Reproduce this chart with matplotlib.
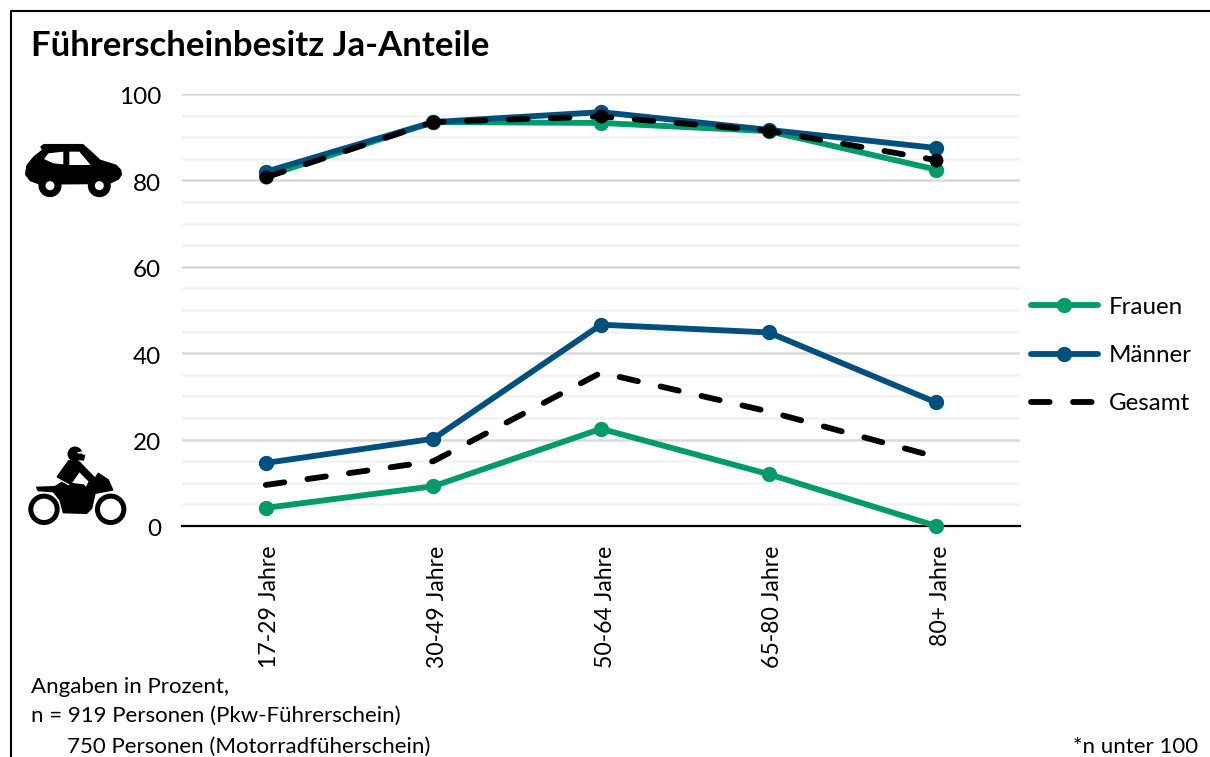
"""Führerscheinbesitz line chart with car and motorcycle icons."""

import matplotlib

matplotlib.use("Agg")
import matplotlib.pyplot as plt
from matplotlib.patches import Circle, Polygon
from matplotlib.transforms import ScaledTranslation

W, H = 1210, 757

categories = ["17-29 Jahre", "30-49 Jahre", "50-64 Jahre", "65-80 Jahre", "80+ Jahre"]
car_frauen = [81.0, 93.5, 93.3, 91.4, 82.5]
car_maenner = [82.0, 93.5, 95.8, 91.7, 87.5]
car_gesamt = [80.7, 93.5, 94.8, 91.5, 84.7]
moto_frauen = [4.2, 9.2, 22.5, 12.0, 0.0]
moto_maenner = [14.6, 20.2, 46.6, 44.8, 28.6]
moto_gesamt = [9.5, 15.0, 35.5, 26.5, 16.0]
y_ticks = [0, 20, 40, 60, 80, 100]
minor_ticks = [5, 10, 15, 25, 30, 35, 45, 50, 55, 65, 70, 75, 85, 90, 95]

GREEN = "#009b6b"
BLUE = "#00507d"

plt.rcParams["font.family"] = ["Lato", "DejaVu Sans"]

fig = plt.figure(figsize=(W / 100, H / 100), dpi=100)
ax = fig.add_axes([182 / W, 1 - 526 / H, (1020 - 182) / W, (526 - 94) / H])
ax.set_xlim(-0.5, 4.5)
ax.set_ylim(0, 100)

x = range(len(categories))
line_kw = dict(lw=4.2, marker="o", ms=10, solid_capstyle="round", clip_on=False, zorder=3)
ax.plot(x, car_frauen, color=GREEN, **line_kw)
ax.plot(x, car_maenner, color=BLUE, **line_kw)
ax.plot(x, moto_frauen, color=GREEN, label="Frauen", **line_kw)
ax.plot(x, moto_maenner, color=BLUE, label="Männer", **line_kw)
dash_kw = dict(color="black", lw=4.2, ls=(0, (3.2, 4.0)), dash_capstyle="round", zorder=4)
ax.plot(x, car_gesamt, marker="o", ms=9, clip_on=False, **dash_kw)
ax.plot(x, moto_gesamt, label="Gesamt", **dash_kw)

ax.set_yticks(y_ticks)
ax.set_yticks(minor_ticks, minor=True)
ax.grid(axis="y", which="major", color="#d9d9d9", lw=1.8)
ax.grid(axis="y", which="minor", color="#f2f2f2", lw=1.8)
ax.set_axisbelow(True)
ax.set_xticks(list(x))
ax.set_xticklabels(categories, rotation=90, fontsize=16.6)
ax.tick_params(axis="x", length=0, pad=14)
ax.tick_params(axis="y", which="both", length=0, pad=15, labelsize=17.5)
for side in ["top", "right", "left"]:
    ax.spines[side].set_visible(False)
ax.spines["bottom"].set_color("black")
ax.spines["bottom"].set_linewidth(1.6)

# labels sit a few pixels off the default spot in the original
for label in ax.get_xticklabels():
    label.set_transform(label.get_transform() + ScaledTranslation(4 / 100, 0, fig.dpi_scale_trans))
for label in ax.get_yticklabels():
    label.set_transform(label.get_transform() + ScaledTranslation(0, -2 / 100, fig.dpi_scale_trans))

fig.legend(
    loc="upper left",
    bbox_to_anchor=(1021.5 / W, 1 - 287 / H),
    frameon=False,
    fontsize=17.4,
    handlelength=2.75,
    handletextpad=0.45,
    labelspacing=1.13,
    borderaxespad=0,
)

# everything below is placed in reference pixels
overlay = fig.add_axes([0, 0, 1, 1], zorder=5)
overlay.set_xlim(0, W)
overlay.set_ylim(H, 0)
overlay.axis("off")
overlay.patch.set_alpha(0)

overlay.plot([10.5, 10.5, W], [H, 10.5, 10.5], color="black", lw=1.5, solid_capstyle="butt")

overlay.text(31, 46, "Führerscheinbesitz Ja-Anteile", fontsize=25, fontweight="bold", va="center", ha="left")
overlay.text(31, 687, "Angaben in Prozent,", fontsize=16, va="center", ha="left")
overlay.text(31, 716, "n = 919 Personen (Pkw-Führerschein)", fontsize=16, va="center", ha="left")
overlay.text(67, 747, "750 Personen (Motorradfüherschein)", fontsize=16, va="center", ha="left")
overlay.text(1198, 747, "*n unter 100", fontsize=16, va="center", ha="right")


def icon_points(points, left, top):
    # outlines were traced at 3x zoom
    return [(left + px / 3, top + py / 3) for px, py in points]


def add_shape(points, left, top, color="black", edge=0.0):
    overlay.add_patch(
        Polygon(icon_points(points, left, top), closed=True, fc=color, ec=color, lw=edge, joinstyle="round")
    )


# car icon
CAR_LEFT, CAR_TOP = 20, 135
add_shape(
    [
        (64, 36), (72, 30), (188, 30), (213, 52), (240, 77), (288, 92), (301, 106), (303, 118),
        (295, 131), (268, 144), (60, 146), (32, 136), (18, 118), (22, 92), (42, 67), (70, 45),
    ],
    CAR_LEFT,
    CAR_TOP,
    edge=1.5,
)
add_shape([(72, 72), (85, 55), (130, 50), (130, 88), (100, 85)], CAR_LEFT, CAR_TOP, "white")
add_shape([(148, 50), (178, 50), (212, 90), (148, 90)], CAR_LEFT, CAR_TOP, "white")
for wheel_x in (90, 238):
    (cx, cy), = icon_points([(wheel_x, 152)], CAR_LEFT, CAR_TOP)
    overlay.add_patch(Circle((cx, cy), 11.5, fc="black", ec="none"))
    overlay.add_patch(Circle((cx, cy), 4.5, fc="white", ec="none"))

# motorcycle icon
BIKE_LEFT, BIKE_TOP = 20, 440
for wheel_x in (72, 272):
    (cx, cy), = icon_points([(wheel_x, 208)], BIKE_LEFT, BIKE_TOP)
    overlay.add_patch(Circle((cx, cy), 13.2, fc="none", ec="black", lw=3.6))
add_shape(
    [
        (50, 142), (105, 140), (125, 127), (190, 135), (205, 150), (225, 115), (235, 100), (265, 120),
        (278, 150), (225, 160), (215, 205), (200, 220), (130, 218), (120, 180), (100, 155), (55, 152),
    ],
    BIKE_LEFT,
    BIKE_TOP,
    edge=1.0,
)
add_shape(
    [
        (112, 110), (146, 62), (178, 66), (230, 120), (212, 150), (198, 145), (208, 124),
        (178, 94), (150, 134), (118, 118),
    ],
    BIKE_LEFT,
    BIKE_TOP,
    edge=1.0,
)
sliver = icon_points([(113, 116), (146, 134)], BIKE_LEFT, BIKE_TOP)
overlay.plot([p[0] for p in sliver], [p[1] for p in sliver], color="white", lw=0.9)
(cx, cy), = icon_points([(165, 42)], BIKE_LEFT, BIKE_TOP)
overlay.add_patch(Circle((cx, cy), 7.5, fc="black", ec="none"))
add_shape([(175, 44), (196, 44), (192, 62), (172, 60)], BIKE_LEFT, BIKE_TOP)
add_shape([(172, 36), (196, 34), (196, 40), (174, 41)], BIKE_LEFT, BIKE_TOP, "white")

fig.savefig("out.png", dpi=100)
